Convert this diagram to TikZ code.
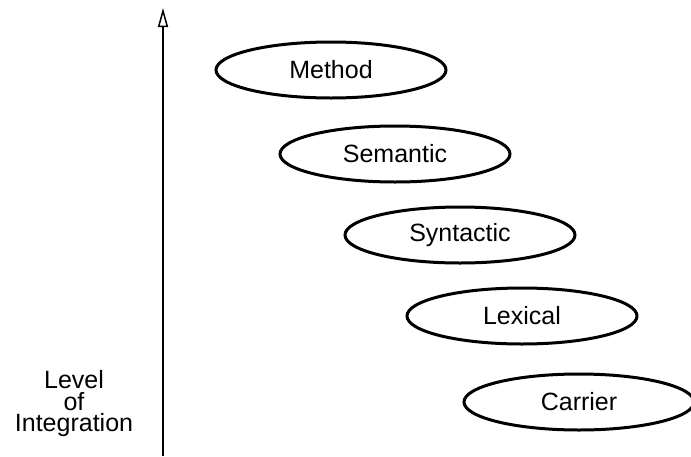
\documentclass[tikz,border=0pt]{standalone}
\usepackage{fontspec}
\setmainfont{Liberation Sans}
\usetikzlibrary{shapes.geometric,arrows.meta}
\begin{document}
\begin{tikzpicture}[x=1pt,y=-1pt,
  lvl/.style={draw, line width=3pt, ellipse, minimum width=230, minimum height=56, inner sep=0pt, font=\fontsize{25}{28}\selectfont},
  lbl/.style={align=center, font=\fontsize{25}{21.5}\selectfont}]
\useasboundingbox (0,0) rectangle (691,456);
\node[lvl] (method) at (331,70) {Method};
\node[lvl] (semantic) at (395,154) {Semantic};
\node[lvl] (syntactic) at (460,235) {Syntactic};
\node[lvl] (lexical) at (522,316) {Lexical};
\node[lvl] (carrier) at (579,402) {Carrier};
\coordinate (axbot) at (163,456);
\coordinate (axtop) at (163,8);
\draw[line width=1.8pt, -{Triangle[open, length=19pt, width=10pt, line width=1.5pt]}] (axbot) -- (axtop);
\node[lbl] (level) at (74,404) {Level\\of\\Integration};
\end{tikzpicture}
\end{document}
